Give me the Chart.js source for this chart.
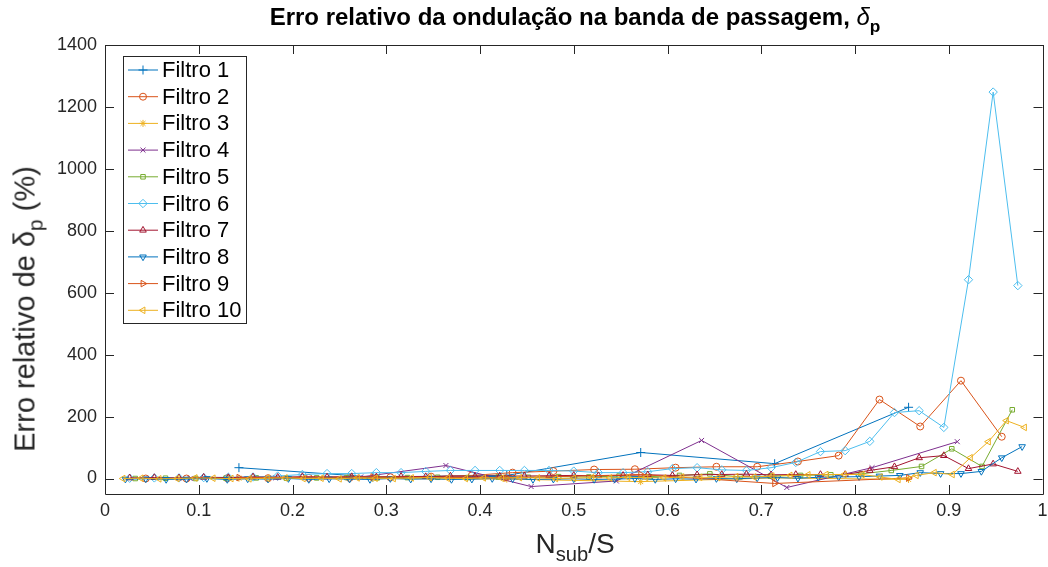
<!DOCTYPE html>
<html>
<head>
<meta charset="utf-8">
<script src="https://cdn.jsdelivr.net/npm/chart.js@4.4.1/dist/chart.umd.min.js"></script>
<style>
  html, body { margin: 0; padding: 0; background: #fff; }
  #wrap { position: relative; width: 1048px; height: 567px; font-family: "Liberation Sans", Arial, sans-serif; color: #262626; }
  #wrap canvas { position: absolute; left: 0; top: 0; }
  .title { position: absolute; left: 105px; width: 940px; top: 5px; line-height: 1; text-align: center; font-weight: bold; font-size: 24px; color: #000; white-space: nowrap; }
  .xlabel { position: absolute; left: 105px; width: 940px; top: 530px; line-height: 1; text-align: center; font-size: 28px; white-space: nowrap; }
  .ylabel { position: absolute; left: 25px; top: 309px; line-height: 1; transform: translate(-50%, -50%) rotate(-90deg); font-size: 29px; white-space: nowrap; }
  sub { font-size: 72%; vertical-align: -0.4em; line-height: 0; }
  .delta { font-style: italic; font-weight: normal; }
</style>
</head>
<body>
<div id="wrap">
  <canvas id="chart" width="1048" height="567"></canvas>
  <div class="title">Erro relativo da ondulação na banda de passagem, <span class="delta">δ</span><sub>p</sub></div>
  <div class="ylabel">Erro relativo de δ<sub>p</sub> (%)</div>
  <div class="xlabel">N<sub>sub</sub>/S</div>
</div>
<script>
// S of each filter: points sit at Nsub/S for Nsub = 1 .. S-1
const filterNames = ['Filtro 1', 'Filtro 2', 'Filtro 3', 'Filtro 4', 'Filtro 5',
                     'Filtro 6', 'Filtro 7', 'Filtro 8', 'Filtro 9', 'Filtro 10'];
const filterSizes = [7, 23, 7, 11, 31, 38, 38, 46, 7, 52];

// relative error of the passband ripple (%)
const errF1 = [35, 5, 10, 84, 48, 230];
const errF2 = [0, 0, 1, 1, 2, 2, 4, 6, 10, 19, 24, 29, 30, 35, 38, 38, 55, 74, 255, 168, 316, 135];
const errF3 = [1, 0, -2, -10, 2, -3];
const errF4 = [0, 2, 5, 42, -26, -8, 123, -29, 35, 119];
const errF5 = [0, 1, 0, 1, 2, 1, 2, 3, 2, 3, 4, 3, 5, 4, 6, 5, 8, 6, 10, 15,
               5, 8, 10, 12, 15, 26, 39, 96, 39, 222];
const errF6 = [1, 2, 2, 3, 4, 5, 8, 13, 16, 16, 19, 19, 23, 26, 26, 26, 26, 26, 24, 19,
               19, 22, 32, 35, 28, 26, 35, 52, 87, 90, 120, 213, 219, 165, 642, 1248, 623];
const errF7 = [2, 3, 2, 4, 3, 5, 4, 6, 5, 6, 5, 7, 6, 8, 7, 8, 8, 9, 10, 9,
               10, 12, 10, 12, 13, 14, 12, 13, 13, 13, 26, 38, 67, 74, 32, 47, 23];
const errF8 = [-2, -1, -3, -2, 0, -3, -1, -2, 0, -3, -1, -2, -3, 0, -2, -1, -3, -2, 0, -1,
               -3, -2, -1, -3, -2, 0, -3, -1, -2, 0, -1, 2, 3, 1, 4, 5, 6, 8, 10,
               19, 16, 16, 23, 67, 103];
const errF9 = [3, 5, 2, 13, -16, 2];
const errF10 = [0, 1, -1, 0, 2, 1, 0, -1, 1, 2, 0, 1, -1, 2, 1, 0, 2, 3, 1, 0,
                2, 1, 3, 2, 0, 1, 3, 2, 4, 3, 2, 5, 4, 3, 6, 5, 8, 10, 12, 13,
                13, 13, 5, -3, 10, 19, 13, 67, 119, 187, 165];
const filterErrors = [errF1, errF2, errF3, errF4, errF5, errF6, errF7, errF8, errF9, errF10];

const xTickVals = [0, 0.1, 0.2, 0.3, 0.4, 0.5, 0.6, 0.7, 0.8, 0.9, 1];
const yTickVals = [0, 200, 400, 600, 800, 1000, 1200, 1400];

// default MATLAB colour order and markers
const colors = ['#0072BD', '#D95319', '#EDB120', '#7E2F8E', '#77AC30',
                '#4DBEEE', '#A2142F', '#0072BD', '#D95319', '#EDB120'];
const markers = ['cross', 'circle', 'star', 'crossRot', 'rect',
                 'rectRot', 'triangle', 'triangle', 'triangle', 'triangle'];
const markerRot = [0, 0, 0, 0, 0, 0, 0, 180, 90, 270];
const markerRadius = [4.5, 3.5, 3.5, 3.5, 3.2, 4.2, 3.8, 3.8, 3.8, 3.8];

const axisColor = '#262626';
const tickFont = { family: '"Liberation Sans", Arial, sans-serif', size: 18 };

const datasets = filterNames.map((name, i) => ({
  label: name,
  data: filterErrors[i].map((v, k) => ({ x: (k + 1) / filterSizes[i], y: v })),
  showLine: true,
  tension: 0,
  borderColor: colors[i],
  borderWidth: 1,
  backgroundColor: 'rgba(0,0,0,0)',
  pointStyle: markers[i],
  pointRotation: markerRot[i],
  pointRadius: markerRadius[i],
  pointBorderWidth: 1,
  pointBorderColor: colors[i],
  pointBackgroundColor: 'rgba(0,0,0,0)',
  order: filterNames.length - i
}));

// box around the axes with inward ticks on all four sides
const axesBox = {
  id: 'axesBox',
  afterDatasetsDraw(chart) {
    const { ctx, chartArea: a, scales: { x, y } } = chart;
    const len = 9;
    ctx.save();
    ctx.strokeStyle = axisColor;
    ctx.lineWidth = 1;
    ctx.beginPath();
    ctx.rect(Math.round(a.left) + 0.5, Math.round(a.top) + 0.5,
             Math.round(a.right - a.left), Math.round(a.bottom - a.top));
    xTickVals.forEach((v) => {
      const px = Math.round(x.getPixelForValue(v)) + 0.5;
      ctx.moveTo(px, a.bottom); ctx.lineTo(px, a.bottom - len);
      ctx.moveTo(px, a.top); ctx.lineTo(px, a.top + len);
    });
    yTickVals.forEach((v) => {
      const py = Math.round(y.getPixelForValue(v)) + 0.5;
      ctx.moveTo(a.left, py); ctx.lineTo(a.left + len, py);
      ctx.moveTo(a.right, py); ctx.lineTo(a.right - len, py);
    });
    ctx.stroke();
    ctx.restore();
  }
};

// legend box in the upper-left corner of the axes
const boxLegend = {
  id: 'boxLegend',
  afterDraw(chart) {
    const ctx = chart.ctx;
    const left = 123, top = 56, w = 123, h = 267, rowH = 26.7, firstY = 70;
    ctx.save();
    ctx.fillStyle = '#fff';
    ctx.fillRect(left, top, w, h);
    ctx.strokeStyle = axisColor;
    ctx.lineWidth = 1;
    ctx.strokeRect(left + 0.5, top + 0.5, w, h);
    ctx.font = '22px "Liberation Sans", Arial, sans-serif';
    ctx.textBaseline = 'middle';
    chart.data.datasets.forEach((ds, i) => {
      const cy = firstY + i * rowH;
      ctx.strokeStyle = ds.borderColor;
      ctx.lineWidth = 1;
      ctx.beginPath();
      ctx.moveTo(128, cy); ctx.lineTo(158, cy);
      ctx.stroke();
      ctx.fillStyle = 'rgba(0,0,0,0)';
      Chart.helpers.drawPoint(ctx, {
        pointStyle: ds.pointStyle, rotation: ds.pointRotation,
        radius: ds.pointRadius, borderWidth: 1
      }, 143, cy);
      ctx.fillStyle = '#000';
      ctx.fillText(ds.label, 162, cy + 1);
    });
    ctx.restore();
  }
};

new Chart(document.getElementById('chart'), {
  type: 'scatter',
  data: { datasets },
  options: {
    responsive: false,
    animation: false,
    events: [],
    layout: { padding: { top: 45, right: 3, left: 0, bottom: 0 } },
    plugins: { legend: { display: false }, tooltip: { enabled: false } },
    scales: {
      x: {
        type: 'linear', min: 0, max: 1,
        grid: { display: false, drawTicks: false },
        border: { display: false },
        afterBuildTicks: (s) => { s.ticks = xTickVals.map((v) => ({ value: v })); },
        afterFit: (s) => { s.height = 73; s.paddingLeft = 0; s.paddingRight = 0; },
        ticks: {
          color: axisColor, font: tickFont, padding: 6, maxRotation: 0, autoSkip: false,
          callback: (v) => String(Number(v.toFixed(1)))
        }
      },
      y: {
        type: 'linear', min: -50, max: 1400,
        grid: { display: false, drawTicks: false },
        border: { display: false },
        afterBuildTicks: (s) => { s.ticks = yTickVals.map((v) => ({ value: v })); },
        afterFit: (s) => { s.width = 105; s.paddingTop = 0; s.paddingBottom = 0; },
        ticks: { color: axisColor, font: tickFont, padding: 8, callback: (v) => String(v) }
      }
    }
  },
  plugins: [axesBox, boxLegend]
});
</script>
</body>
</html>
